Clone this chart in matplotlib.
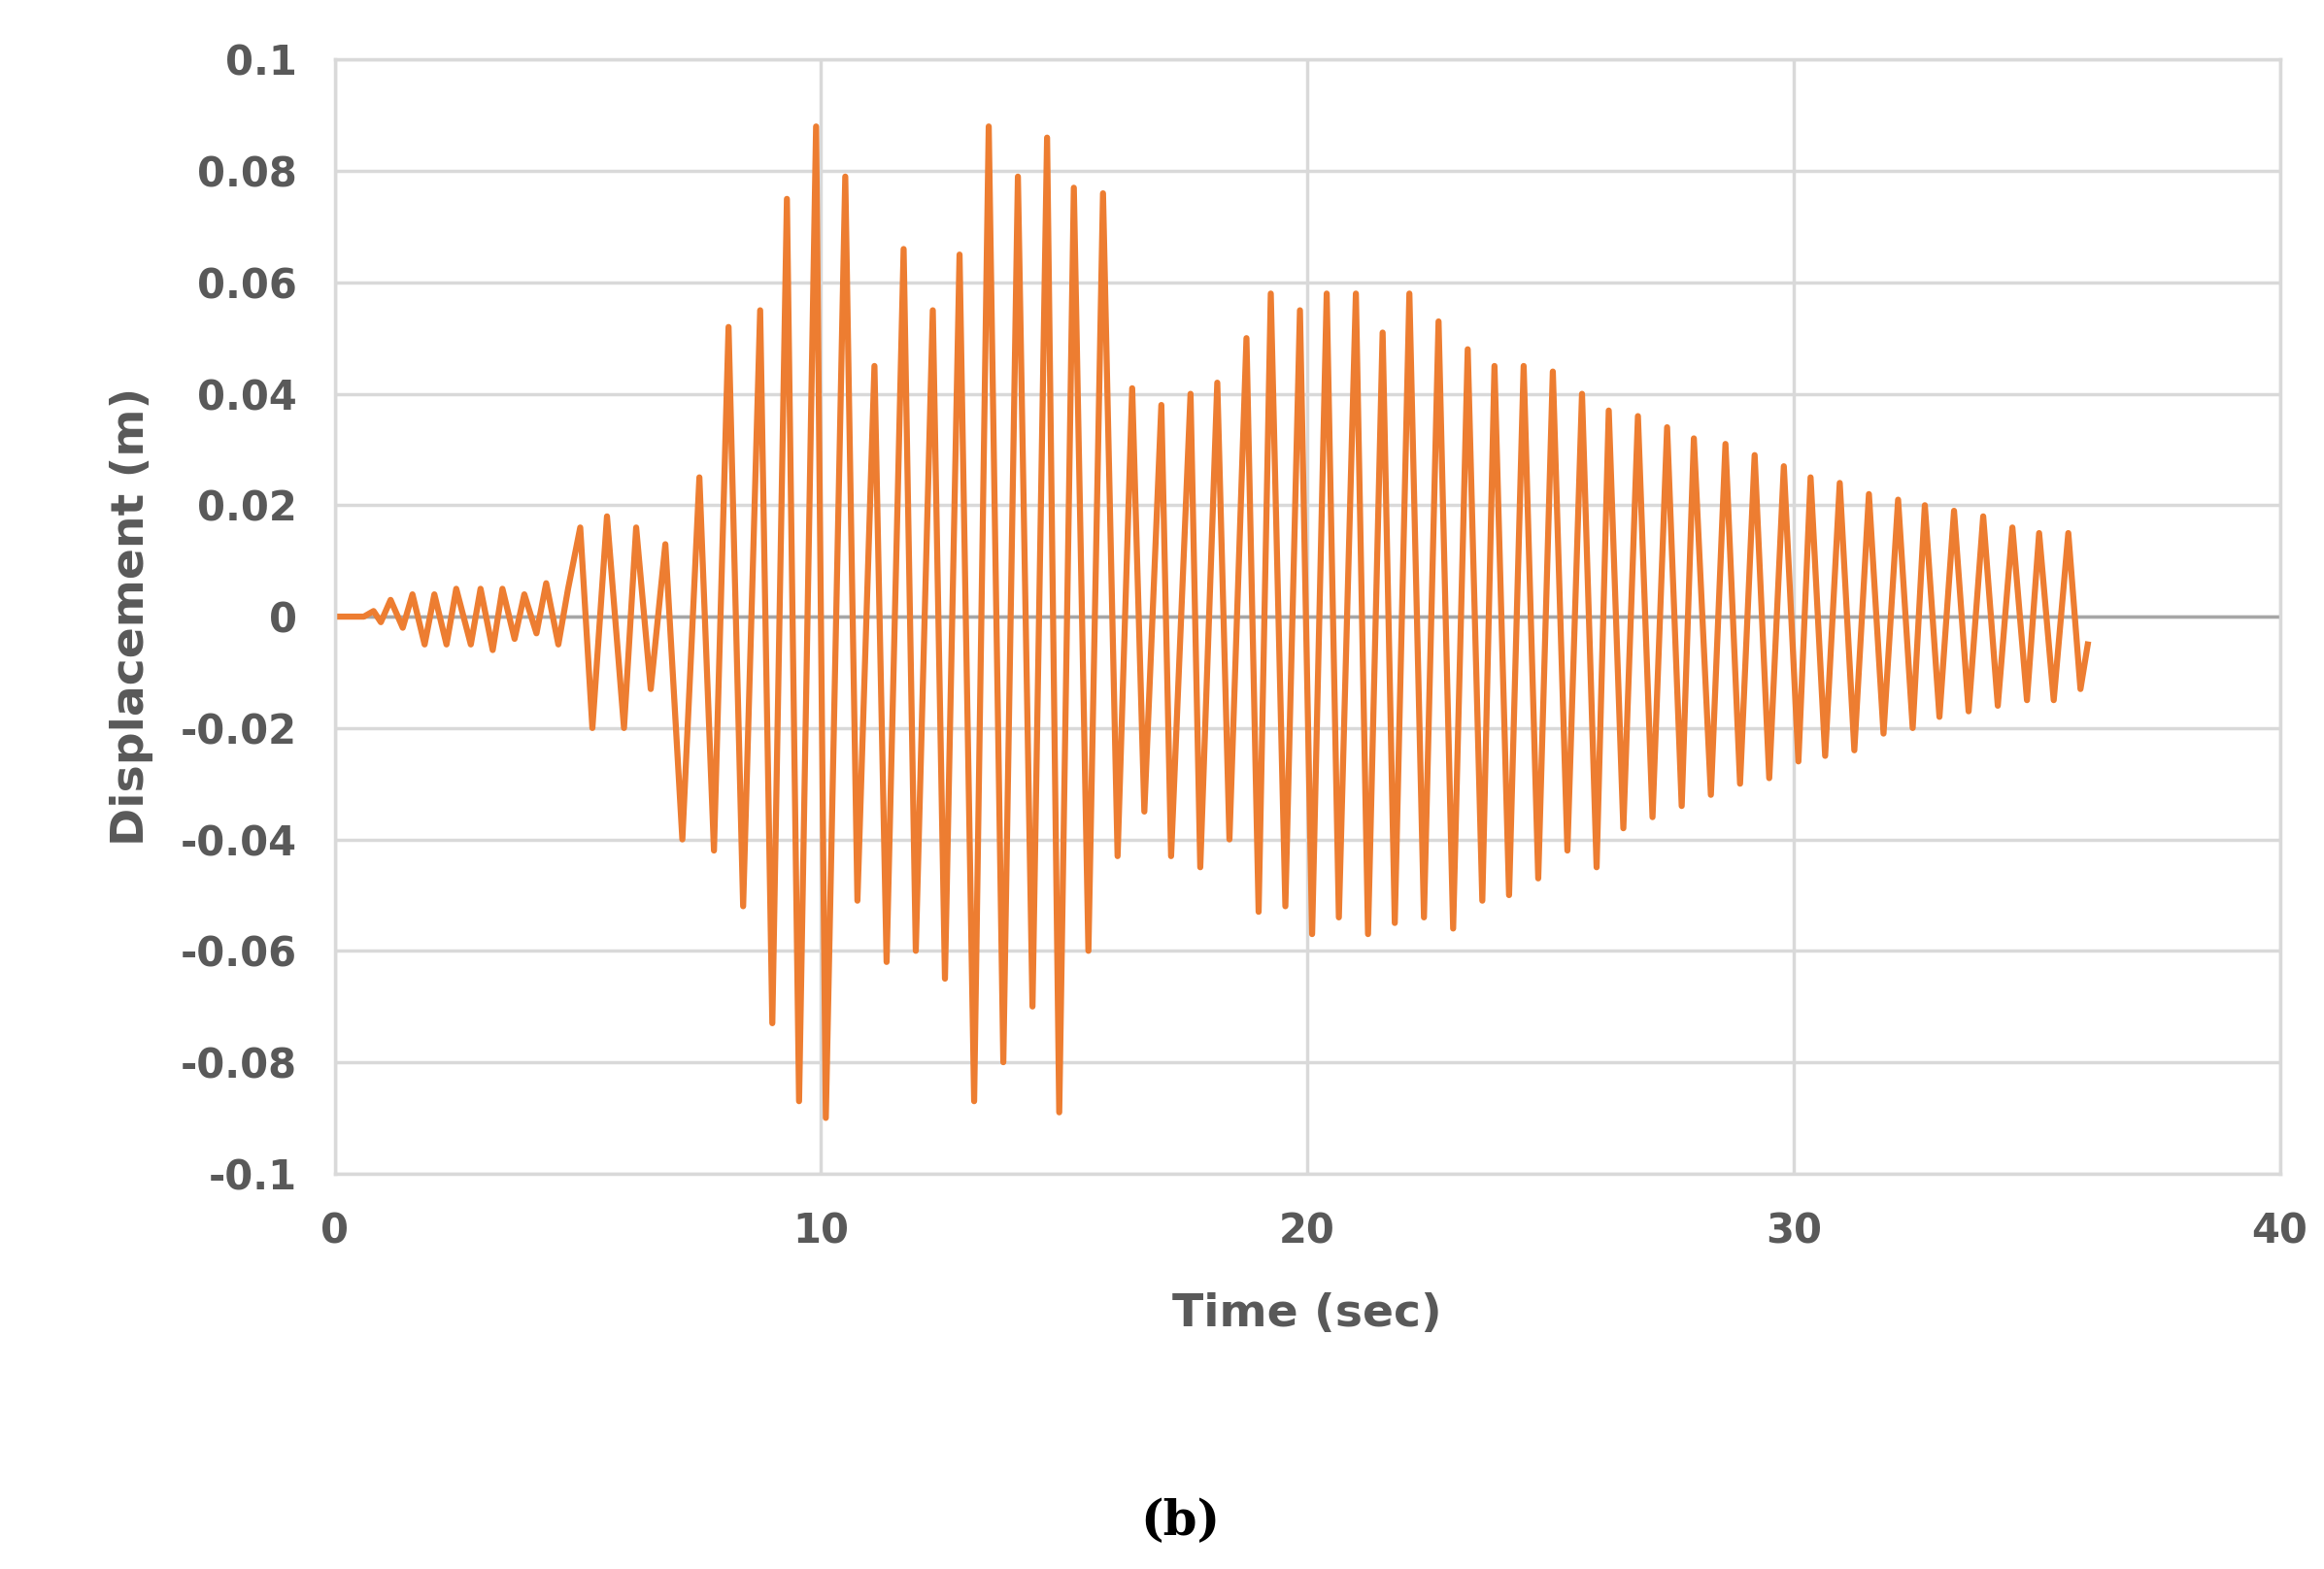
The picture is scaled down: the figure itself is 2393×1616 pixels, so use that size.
import matplotlib
matplotlib.use("Agg")
import matplotlib.pyplot as plt

# extreme points (time s, displacement m)
early = [(0.0, 0.0), (0.6, 0.0), (0.8, 0.001), (0.95, -0.001), (1.15, 0.003), (1.4, -0.002), (1.6, 0.004),
         (1.85, -0.005), (2.05, 0.004), (2.3, -0.005), (2.5, 0.005), (2.8, -0.005), (3.0, 0.005), (3.25, -0.006),
         (3.45, 0.005), (3.7, -0.004), (3.9, 0.004), (4.15, -0.003), (4.35, 0.006), (4.6, -0.005), (4.8, 0.005)]
strong = [(5.05, 0.016), (5.3, -0.020), (5.6, 0.018), (5.95, -0.020), (6.2, 0.016), (6.5, -0.013), (6.8, 0.013),
          (7.15, -0.040), (7.5, 0.025), (7.8, -0.042), (8.1, 0.052), (8.4, -0.052), (8.75, 0.055), (9.0, -0.073),
          (9.3, 0.075), (9.55, -0.087), (9.9, 0.088), (10.1, -0.090), (10.5, 0.079), (10.75, -0.051),
          (11.1, 0.045), (11.35, -0.062), (11.7, 0.066), (11.95, -0.060), (12.3, 0.055), (12.55, -0.065),
          (12.85, 0.065), (13.15, -0.087), (13.45, 0.088), (13.75, -0.080), (14.05, 0.079), (14.35, -0.070),
          (14.65, 0.086), (14.9, -0.089), (15.2, 0.077), (15.5, -0.060), (15.8, 0.076), (16.1, -0.043)]
middle = [(16.4, 0.041), (16.65, -0.035), (17.0, 0.038), (17.2, -0.043), (17.6, 0.040), (17.8, -0.045),
          (18.15, 0.042), (18.4, -0.040), (18.75, 0.050), (19.0, -0.053), (19.25, 0.058), (19.55, -0.052),
          (19.85, 0.055), (20.1, -0.057), (20.4, 0.058), (20.65, -0.054), (21.0, 0.058), (21.25, -0.057),
          (21.55, 0.051), (21.8, -0.055), (22.1, 0.058), (22.4, -0.054), (22.7, 0.053), (23.0, -0.056),
          (23.3, 0.048), (23.6, -0.051), (23.85, 0.045), (24.15, -0.050), (24.45, 0.045), (24.75, -0.047),
          (25.05, 0.044), (25.35, -0.042), (25.65, 0.040), (25.95, -0.045), (26.2, 0.037), (26.5, -0.038)]
tail = [(26.8, 0.036), (27.1, -0.036), (27.4, 0.034), (27.7, -0.034), (27.95, 0.032), (28.3, -0.032),
        (28.6, 0.031), (28.9, -0.030), (29.2, 0.029), (29.5, -0.029), (29.8, 0.027), (30.1, -0.026),
        (30.35, 0.025), (30.65, -0.025), (30.95, 0.024), (31.25, -0.024), (31.55, 0.022), (31.85, -0.021),
        (32.15, 0.021), (32.45, -0.020), (32.7, 0.020), (33.0, -0.018), (33.3, 0.019), (33.6, -0.017),
        (33.9, 0.018), (34.2, -0.016), (34.5, 0.016), (34.8, -0.015), (35.05, 0.015), (35.35, -0.015),
        (35.65, 0.015), (35.9, -0.013), (36.05, -0.005)]

xticks = [0, 10, 20, 30, 40]
yticks = [-0.1, -0.08, -0.06, -0.04, -0.02, 0, 0.02, 0.04, 0.06, 0.08, 0.1]
ylabels = ["-0.1", "-0.08", "-0.06", "-0.04", "-0.02", "0", "0.02", "0.04", "0.06", "0.08", "0.1"]

pts = early + strong + middle + tail
t = [p[0] for p in pts]
d = [p[1] for p in pts]

fig = plt.figure(figsize=(23.93, 16.16), dpi=100)
ax = fig.add_axes([0.144, 0.252, 0.837, 0.71])
ax.plot(t, d, color="#ED7D31", lw=4.5, solid_joinstyle="round")
ax.set_xlim(0, 40)
ax.set_ylim(-0.1, 0.1)
ax.set_xticks(xticks)
ax.set_yticks(yticks)
ax.set_yticklabels(ylabels)
ax.grid(True, color="#d9d9d9", lw=2.5)
ax.axhline(0, color="#a6a6a6", lw=2.5, zorder=1)
ax.set_axisbelow(True)
for s in ax.spines.values():
    s.set_color("#d9d9d9"); s.set_linewidth(2.5)
ax.tick_params(length=0, labelsize=30, labelcolor="#595959", pad=28)
for lab in ax.get_xticklabels() + ax.get_yticklabels():
    lab.set_fontweight("bold")
ax.set_xlabel("Time (sec)", fontsize=34, fontweight="bold", color="#595959", labelpad=30)
ax.set_ylabel("Displacement (m)", fontsize=34, fontweight="bold", color="#595959", labelpad=20)
fig.text(0.508, 0.03, "(b)", fontsize=36, fontweight="bold", family="DejaVu Serif", ha="center", va="center")
fig.savefig("out.png", dpi=100)
